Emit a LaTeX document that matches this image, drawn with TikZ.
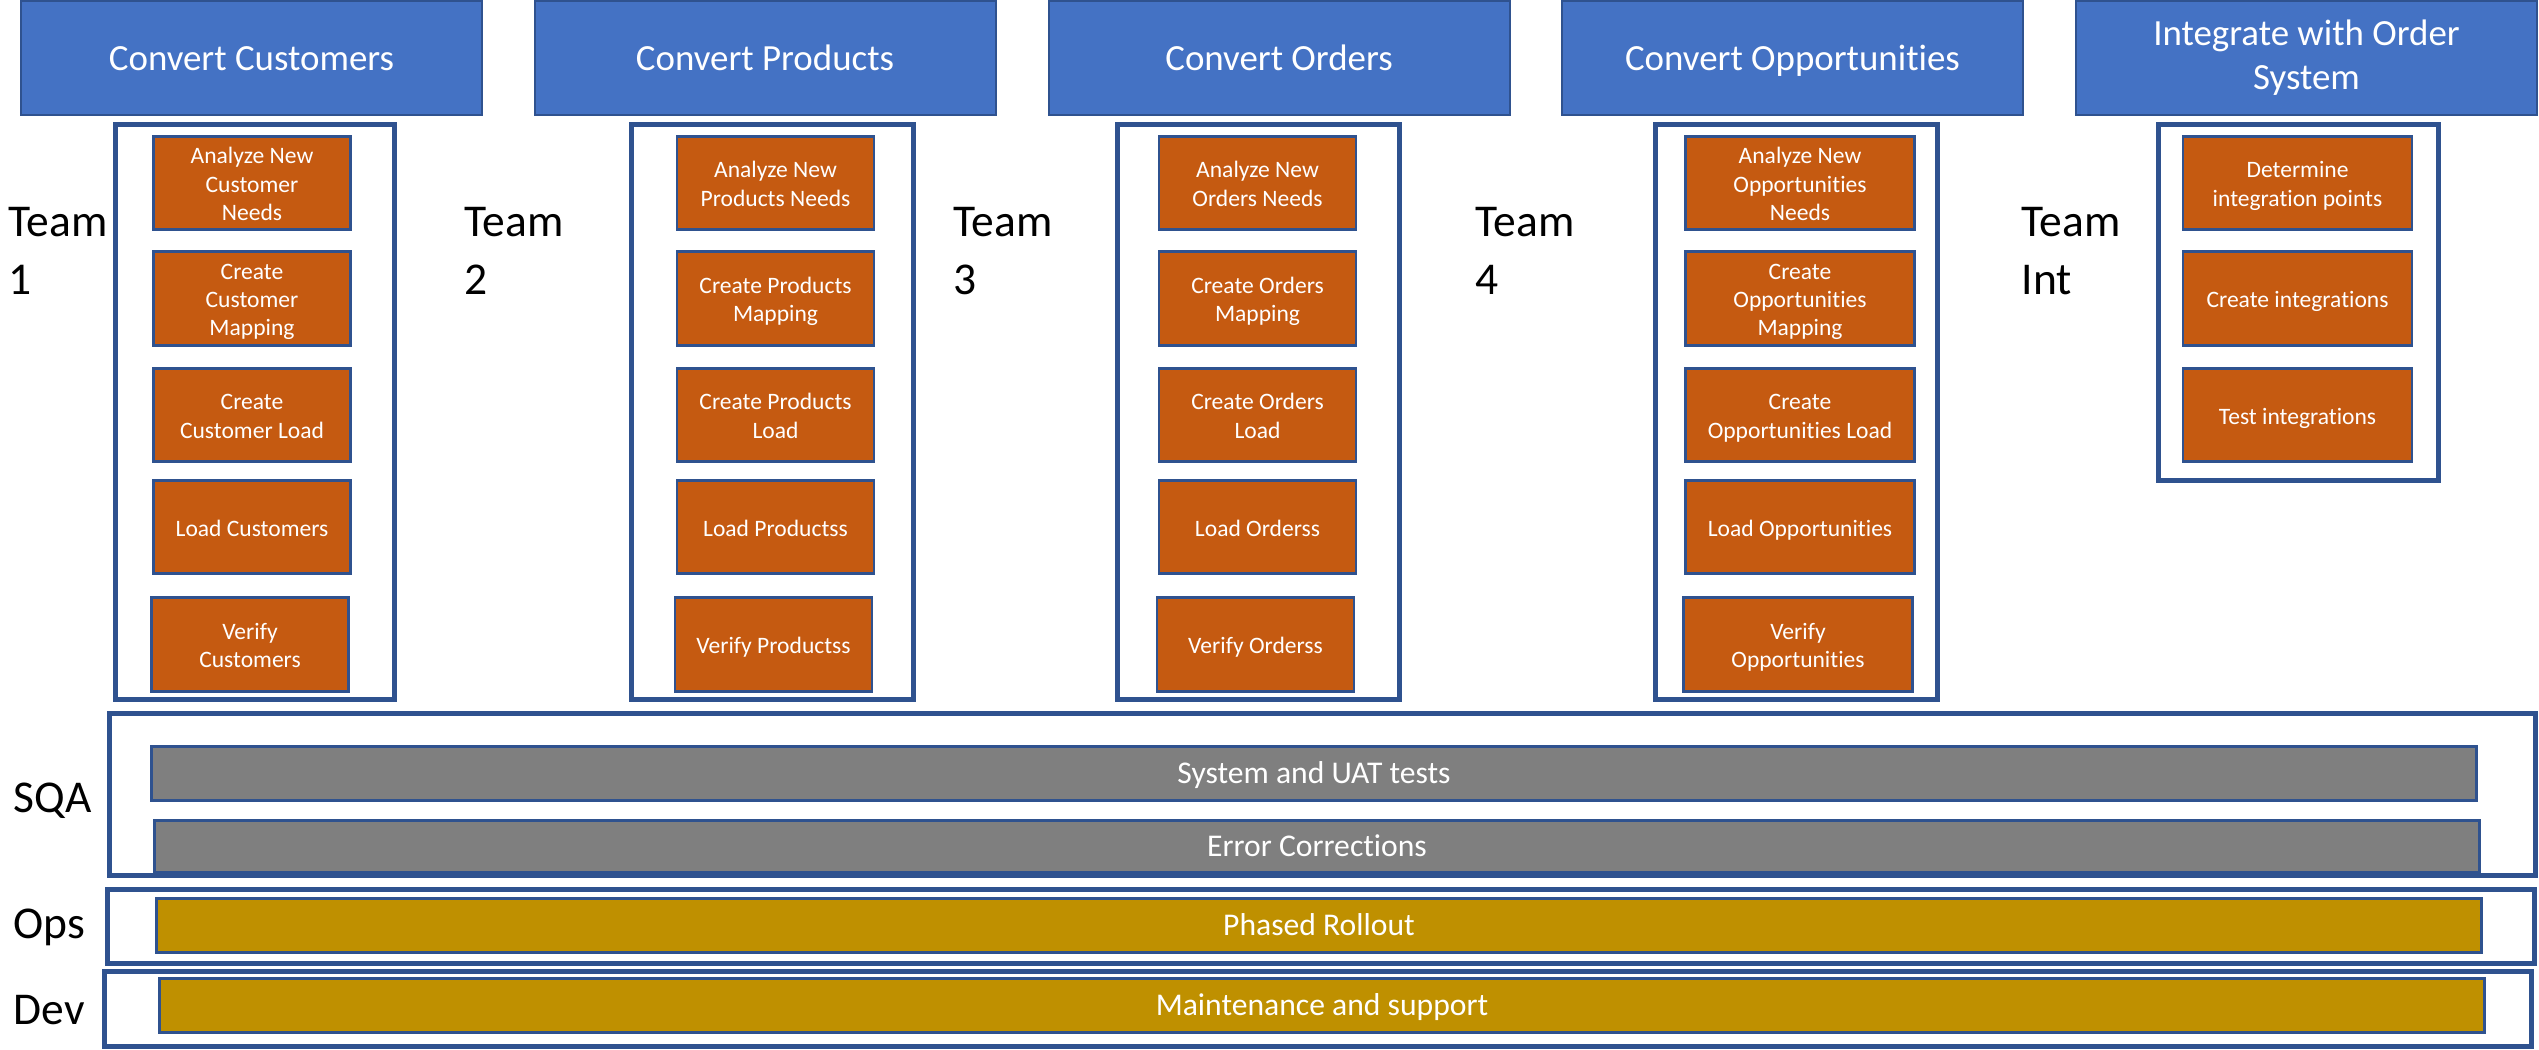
\documentclass[tikz,border=0pt]{standalone}
\usepackage{fontspec}
\setmainfont{Carlito}[Ligatures=NoCommon]

\definecolor{hdrblue}{HTML}{4472C4}
\definecolor{edgeblue}{HTML}{2F528F}
\definecolor{taskorange}{HTML}{C55A11}
\definecolor{sqagray}{HTML}{7F7F7F}
\definecolor{opsgold}{HTML}{BF9000}

\tikzset{
  header/.style={draw=edgeblue, line width=0.2mm, fill=hdrblue, text=white,
    minimum width=46.1mm, minimum height=11.4mm, inner sep=0, align=center,
    font=\fontsize{10.5}{12.5}\selectfont, text height=3.4mm, text depth=1mm},
  task/.style={draw=edgeblue, line width=0.27mm, fill=taskorange, text=white,
    minimum width=19.7mm, minimum height=9.35mm, inner sep=0, align=center,
    font=\fontsize{6.7}{8.05}\selectfont, text height=2.3mm, text depth=0.5mm},
  widetask/.style={task, minimum width=22.9mm},
  twolines/.style={text height=5.13mm},
  threelines/.style={text height=7.96mm},
  teambox/.style={draw=edgeblue, line width=0.45mm},
  bar/.style={draw=edgeblue, line width=0.27mm, text=white,
    minimum width=232.5mm, minimum height=5.4mm, inner sep=0,
    font=\fontsize{9}{11}\selectfont, text height=2.7mm, text depth=0.7mm},
  teamlabel/.style={inner sep=0, anchor=west, align=left,
    font=\fontsize{12.95}{16.5}\selectfont},
  rowlabel/.style={inner sep=0, anchor=base west,
    font=\fontsize{12.95}{16.5}\selectfont}
}

\begin{document}
\begin{tikzpicture}[x=0.1mm, y=-0.1mm]
\useasboundingbox (0,0) rectangle (2539,1049);

% work streams
\node[header] (hdrcust) at (251.5,58) {Convert Customers};
\node[header] (hdrprod) at (765,58) {Convert Products};
\node[header] (hdrord) at (1279,58) {Convert Orders};
\node[header] (hdropp) at (1792.5,58) {Convert Opportunities};
\node[header, text height=7.2mm] (hdrint) at (2306.5,58) {Integrate with Order\\System};

% team frames
\draw[teambox] (115.5,124.5) rectangle (394.5,699.5);
\draw[teambox] (631.5,124.5) rectangle (913.5,699.5);
\draw[teambox] (1117.5,124.5) rectangle (1399.5,699.5);
\draw[teambox] (1655.5,124.5) rectangle (1937.5,699.5);
\draw[teambox] (2158.5,124.5) rectangle (2438.5,480.5);

\node[teamlabel] (lblteam1) at (8,251) {Team\\1};
\node[teamlabel] (lblteam2) at (464,251) {Team\\2};
\node[teamlabel] (lblteam3) at (953,251) {Team\\3};
\node[teamlabel] (lblteam4) at (1475,251) {Team\\4};
\node[teamlabel] (lblteamint) at (2021,251) {Team\\Int};

% team 1
\node[task, threelines] (cust1) at (252,183) {Analyze New\\Customer\\Needs};
\node[task, threelines] (cust2) at (252,298.5) {Create\\Customer\\Mapping};
\node[task, twolines] (cust3) at (252,415) {Create\\Customer Load};
\node[task] (cust4) at (252,527) {Load Customers};
\node[task, twolines] (cust5) at (250,644.5) {Verify\\Customers};

% team 2
\node[task, twolines] (prod1) at (775.5,183) {Analyze New\\Products Needs};
\node[task, twolines] (prod2) at (775.5,298.5) {Create Products\\Mapping};
\node[task, twolines] (prod3) at (775.5,415) {Create Products\\Load};
\node[task] (prod4) at (775.5,527) {Load Productss};
\node[task] (prod5) at (773.5,644.5) {Verify Productss};

% team 3
\node[task, twolines] (ord1) at (1257.5,183) {Analyze New\\Orders Needs};
\node[task, twolines] (ord2) at (1257.5,298.5) {Create Orders\\Mapping};
\node[task, twolines] (ord3) at (1257.5,415) {Create Orders\\Load};
\node[task] (ord4) at (1257.5,527) {Load Orderss};
\node[task] (ord5) at (1255.5,644.5) {Verify Orderss};

% team 4
\node[widetask, threelines] (opp1) at (1800,183) {Analyze New\\Opportunities\\Needs};
\node[widetask, threelines] (opp2) at (1800,298.5) {Create\\Opportunities\\Mapping};
\node[widetask, twolines] (opp3) at (1800,415) {Create\\Opportunities Load};
\node[widetask] (opp4) at (1800,527) {Load Opportunities};
\node[widetask, twolines] (opp5) at (1798,644.5) {Verify\\Opportunities};

% integration team
\node[widetask, twolines] (int1) at (2297.5,183) {Determine\\integration points};
\node[widetask] (int2) at (2297.5,298.5) {Create integrations};
\node[widetask] (int3) at (2297.5,415) {Test integrations};

% sqa, ops, dev
\draw[teambox] (109.5,713.5) rectangle (2535.5,875.5);
\draw[teambox] (107.5,889.5) rectangle (2534.5,963.5);
\draw[teambox] (104.5,971.5) rectangle (2531.5,1046.5);

\node[bar, fill=sqagray] (sysuat) at (1314,773.5) {System and UAT tests};
\node[bar, fill=sqagray, minimum height=5.2mm] (errfix) at (1317,846.5) {Error Corrections};
\node[bar, fill=opsgold] (rollout) at (1319,925.5) {Phased Rollout};
\node[bar, fill=opsgold] (maint) at (1322,1005.5) {Maintenance and support};

\node[rowlabel] (lblsqa) at (13,812) {SQA};
\node[rowlabel] (lblops) at (13,938) {Ops};
\node[rowlabel] (lbldev) at (13,1024) {Dev};
\end{tikzpicture}
\end{document}
